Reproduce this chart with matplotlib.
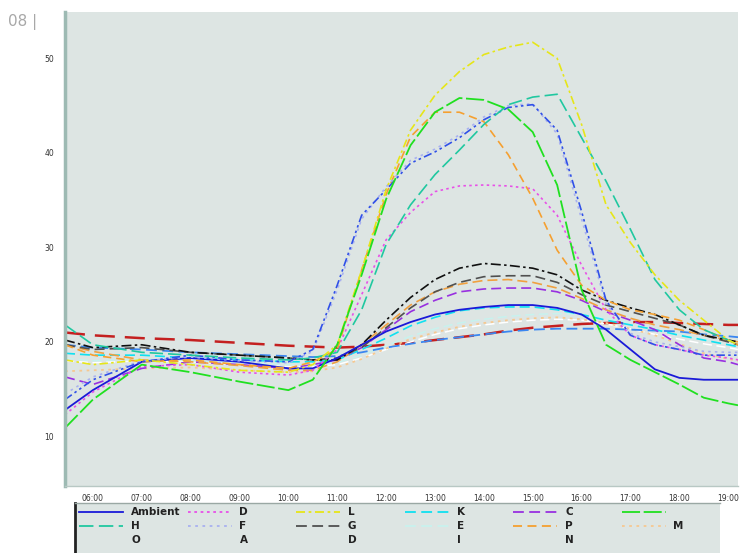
import matplotlib
matplotlib.use("Agg")
import matplotlib.pyplot as plt
from matplotlib.lines import Line2D

# time grid (hours from first label)
hours = [-0.57, 0, 1, 2, 3, 4, 4.5, 5, 5.5, 6, 6.5, 7, 7.5, 8, 8.5, 9, 9.5,
         10, 10.5, 11, 11.5, 12, 12.5, 13, 13.2]
tick_labels = ["06:00", "07:00", "08:00", "09:00", "10:00", "11:00", "12:00",
               "13:00", "14:00", "15:00", "16:00", "17:00", "18:00", "19:00"]
y_ticks = [10, 20, 30, 40, 50]

ambient = [12.8, 14.9, 17.9, 18.3, 17.9, 17.2, 17.2, 18.3, 19.7, 21.1, 22.1, 22.9,
           23.4, 23.7, 23.9, 23.9, 23.6, 22.9, 21.3, 19.2, 17.1, 16.2, 16.0, 16.0, 16.0]
green = [10.9, 13.9, 17.6, 16.8, 15.8, 14.9, 16.0, 19.7, 27.1, 35.1, 40.8, 44.3,
         45.8, 45.6, 44.6, 42.2, 36.6, 25.5, 19.7, 18.1, 16.8, 15.5, 14.1, 13.5, 13.3]
yellow_l = [18.1, 17.6, 18.1, 17.6, 17.0, 16.8, 17.6, 19.7, 27.6, 36.1, 42.4, 46.1,
            48.6, 50.4, 51.2, 51.7, 50.0, 43.0, 34.5, 30.5, 27.1, 24.4, 22.3, 20.2, 19.7]
teal_h = [21.8, 19.7, 18.9, 18.6, 18.3, 18.1, 18.3, 18.9, 23.4, 30.3, 34.5, 37.7,
          40.3, 43.0, 45.1, 45.9, 46.2, 41.6, 37.0, 31.9, 26.6, 23.4, 21.3, 20.2, 19.7]
blue_hi = [13.9, 16.0, 17.9, 18.6, 18.1, 17.9, 19.2, 26.0, 33.4, 36.1, 38.9, 40.1,
           41.6, 43.5, 44.8, 45.1, 42.4, 33.8, 24.4, 20.7, 19.7, 19.2, 18.6, 18.6, 18.6]
lav_f = [14.5, 16.3, 18.0, 18.4, 18.0, 17.8, 19.0, 25.5, 33.0, 36.4, 39.2, 40.4,
         41.9, 43.8, 45.0, 45.2, 42.0, 33.0, 24.0, 20.9, 20.0, 19.5, 19.0, 18.9, 18.9]
magenta_d = [12.3, 14.7, 17.4, 17.6, 16.8, 16.5, 17.0, 19.2, 25.0, 30.8, 33.7, 35.9,
             36.5, 36.6, 36.5, 36.2, 33.4, 28.1, 23.4, 20.7, 19.7, 19.2, 18.6, 18.3, 18.1]
orange_p = [19.7, 18.6, 17.9, 18.1, 17.6, 17.2, 17.9, 19.2, 27.6, 35.6, 41.7, 44.3,
            44.3, 43.3, 39.8, 35.2, 29.7, 26.0, 24.4, 23.4, 22.9, 22.3, 21.3, 20.2, 19.7]
orange_2 = [19.7, 19.0, 18.1, 17.9, 17.5, 17.0, 17.0, 17.9, 19.7, 21.8, 23.9, 25.3,
            26.1, 26.5, 26.6, 26.3, 25.7, 24.6, 23.4, 22.5, 21.8, 21.3, 20.7, 20.2, 20.0]
black_o = [20.2, 19.4, 19.7, 18.9, 18.6, 18.3, 18.1, 18.1, 19.7, 22.3, 24.7, 26.6,
           27.8, 28.3, 28.1, 27.8, 27.1, 25.5, 24.4, 23.6, 22.9, 21.8, 20.7, 20.2, 20.0]
gray_g = [19.7, 19.2, 19.4, 18.9, 18.6, 18.3, 18.1, 18.3, 19.4, 21.5, 23.6, 25.3,
          26.3, 26.9, 27.0, 27.0, 26.3, 25.0, 23.9, 23.2, 22.5, 21.8, 20.7, 20.0, 19.7]
purple_c = [16.3, 15.5, 17.2, 17.9, 17.6, 17.2, 17.6, 18.1, 19.4, 21.3, 23.2, 24.4,
            25.3, 25.6, 25.7, 25.7, 25.3, 24.4, 23.2, 22.3, 21.3, 19.7, 18.3, 17.9, 17.6]
cyan_k = [18.8, 18.6, 18.6, 18.3, 18.1, 17.9, 17.9, 18.1, 19.2, 20.4, 21.7, 22.6,
          23.3, 23.6, 23.7, 23.7, 23.4, 22.9, 22.3, 21.8, 21.3, 20.7, 20.2, 19.7, 19.5]
red = [21.0, 20.7, 20.4, 20.2, 19.9, 19.6, 19.5, 19.4, 19.5, 19.7, 19.9, 20.2,
       20.5, 20.8, 21.2, 21.5, 21.7, 21.9, 22.0, 22.1, 22.1, 22.0, 21.9, 21.8, 21.8]
blue_dash = [19.7, 19.4, 19.2, 18.9, 18.7, 18.5, 18.4, 18.5, 18.9, 19.4, 19.8, 20.2,
             20.5, 20.8, 21.1, 21.3, 21.4, 21.4, 21.4, 21.3, 21.2, 21.1, 20.8, 20.6, 20.5]
pale_e = [18.3, 18.0, 18.2, 18.0, 17.8, 17.6, 17.6, 17.8, 18.6, 19.6, 20.6, 21.4,
          22.0, 22.4, 22.7, 22.9, 23.0, 22.9, 22.5, 22.0, 21.4, 20.8, 20.2, 19.7, 19.5]
white_i = [18.0, 17.8, 18.0, 17.9, 17.6, 17.4, 17.4, 17.6, 18.3, 19.2, 20.0, 20.8,
           21.4, 21.8, 22.1, 22.3, 22.4, 22.3, 21.9, 21.4, 20.8, 20.3, 19.8, 19.4, 19.2]
lorange_m = [16.9, 17.0, 17.2, 17.3, 17.0, 16.8, 16.9, 17.3, 18.2, 19.3, 20.3, 21.0,
             21.6, 22.0, 22.3, 22.5, 22.6, 22.4, 22.0, 21.4, 20.7, 19.8, 18.8, 18.2, 18.0]

# (data, colour, dashes, width)
series = [
    (red, "#c42020", (8, 4), 1.8),
    (white_i, "#ffffff", (6, 3), 1.1),
    (pale_e, "#c8f2ee", (6, 3), 1.1),
    (lorange_m, "#f6c890", (1.5, 2.5), 1.3),
    (blue_dash, "#3a86f0", (6, 3), 1.3),
    (cyan_k, "#10e0f0", (6, 3), 1.2),
    (purple_c, "#9830e0", (6, 3), 1.2),
    (orange_2, "#f0a040", (6, 3), 1.2),
    (gray_g, "#505050", (6, 3), 1.2),
    (black_o, "#101010", (6, 2, 1.5, 2), 1.2),
    (ambient, "#1a1ad8", None, 1.3),
    (magenta_d, "#e850e8", (1.5, 2), 1.2),
    (orange_p, "#f5a030", (5, 3), 1.2),
    (lav_f, "#a8b0f0", (1.5, 2.5), 1.2),
    (blue_hi, "#3050e8", (5, 2, 1.5, 2, 1.5, 2), 1.2),
    (teal_h, "#20c8a0", (8, 3), 1.2),
    (yellow_l, "#e6e619", (5, 2, 1.5, 2), 1.2),
    (green, "#20e020", (10, 2), 1.3),
]

fig = plt.figure(figsize=(7.41, 5.53), dpi=100)
ax = fig.add_axes([65 / 741, 1 - 486 / 553, (738 - 65) / 741, (486 - 12) / 553])
ax.set_facecolor("#dde5e3")

for vals, col, dash, lw in series:
    ln, = ax.plot(hours, vals, color=col, lw=lw)
    if dash:
        ln.set_dashes(dash)

ax.set_xlim(-0.57, 13.2)
ax.set_ylim(4.76, 54.9)
ax.set_xticks(range(len(tick_labels)))
ax.set_xticklabels(tick_labels, fontsize=5.5, color="#333333")
ax.set_xticks(range(0, len(tick_labels), 3), minor=True)
ax.tick_params(axis="x", which="major", length=0, pad=6)
ax.tick_params(axis="x", which="minor", length=4, direction="inout", color="#333333")
ax.set_yticks(y_ticks)
ax.set_yticklabels([str(v) for v in y_ticks], fontsize=5.5, color="#333333")
ax.tick_params(axis="y", length=0, pad=8)
for s in ("top", "right"):
    ax.spines[s].set_visible(False)
ax.spines["left"].set_color("#9dbab3")
ax.spines["left"].set_linewidth(2.5)
ax.spines["bottom"].set_color("#b8c8c4")
ax.spines["bottom"].set_linewidth(1.0)

fig.text(8 / 741, 1 - 22 / 553, "08 |", fontsize=11, color="#a8a8a8", va="center")

# legend panel, drawn row by row like the source
leg_rows = [
    [("Ambient", "#1a1ad8", None), ("D", "#e850e8", (1.5, 2)), ("L", "#e6e619", (5, 2, 1.5, 2)),
     ("K", "#10e0f0", (6, 3)), ("C", "#9830e0", (6, 3)), ("", "#20e020", (10, 2))],
    [("H", "#20c8a0", (8, 3)), ("F", "#a8b0f0", (1.5, 2.5)), ("G", "#505050", (6, 3)),
     ("E", "#c8f2ee", (6, 3)), ("P", "#f5a030", (5, 3)), ("M", "#f6c890", (1.5, 2.5))],
    [("O", "none", None), ("A", "none", None), ("D", "none", None),
     ("I", "none", None), ("N", "none", None)],
]
lax = fig.add_axes([75 / 741, 0, (720 - 75) / 741, 50 / 553])
lax.set_xlim(0, 645)
lax.set_ylim(50, 0)
lax.set_facecolor("#dde5e3")
lax.set_xticks([])
lax.set_yticks([])
for s in ("right", "bottom"):
    lax.spines[s].set_visible(False)
lax.spines["left"].set_color("#222222")
lax.spines["left"].set_linewidth(2)
lax.spines["top"].set_color("#9aa8a4")
lax.spines["top"].set_linewidth(1)

row_y = [9, 23, 37]
for r, row in enumerate(leg_rows):
    for c, (lab, col, dash) in enumerate(row):
        x0 = 4 + c * 108.5
        h = Line2D([x0, x0 + 44], [row_y[r], row_y[r]], color=col, lw=1.3)
        if dash:
            h.set_dashes(dash)
        lax.add_line(h)
        lax.text(x0 + 52, row_y[r], lab, fontsize=7.5, fontweight="bold",
                 color="#222222", va="center", ha="left")

fig.savefig("out.png", dpi=100)
